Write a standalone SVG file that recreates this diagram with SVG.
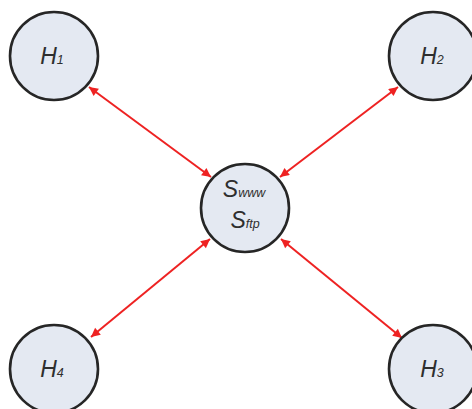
<svg xmlns="http://www.w3.org/2000/svg" width="472" height="409" viewBox="0 0 472 409">
<style>
.node{fill:#e4e9f2;stroke:#262626;stroke-width:2.6}
.lbl{font-family:"Liberation Sans",Arial,sans-serif;font-style:italic;fill:#2e2e2e;font-size:23px}
.sub{font-size:12.5px}
.edge{stroke:#ee2222;stroke-width:2;fill:none;marker-start:url(#ah);marker-end:url(#ah)}
</style>
<defs>
<marker id="ah" viewBox="0 0 10 10" refX="10" refY="5" markerWidth="11" markerHeight="9" markerUnits="userSpaceOnUse" orient="auto-start-reverse">
<path d="M0,0 L10,5 L0,10 z" fill="#ee2222"/>
</marker>
</defs>
<rect width="472" height="409" fill="#fff"/>
<g id="connectors">
<line class="edge" x1="89" y1="87" x2="211" y2="177"/>
<line class="edge" x1="398" y1="87" x2="280" y2="177"/>
<line class="edge" x1="91" y1="337" x2="210" y2="239"/>
<line class="edge" x1="402" y1="338" x2="281" y2="239"/>
</g>
<g id="H1">
<circle class="node" cx="54" cy="56" r="44"/>
<text class="lbl" x="52" y="64" text-anchor="middle">H<tspan class="sub">1</tspan></text>
</g>
<g id="H2">
<circle class="node" cx="433" cy="56" r="44"/>
<text class="lbl" x="432" y="64" text-anchor="middle">H<tspan class="sub">2</tspan></text>
</g>
<g id="H4">
<circle class="node" cx="54" cy="369" r="44"/>
<text class="lbl" x="52" y="377" text-anchor="middle">H<tspan class="sub">4</tspan></text>
</g>
<g id="H3">
<circle class="node" cx="433" cy="369" r="44"/>
<text class="lbl" x="432" y="377" text-anchor="middle">H<tspan class="sub">3</tspan></text>
</g>
<g id="S">
<circle class="node" cx="245" cy="208" r="44"/>
<text class="lbl" x="244" y="197" text-anchor="middle">S<tspan class="sub">www</tspan></text>
<text class="lbl" x="245" y="228" text-anchor="middle">S<tspan class="sub">ftp</tspan></text>
</g>
</svg>
